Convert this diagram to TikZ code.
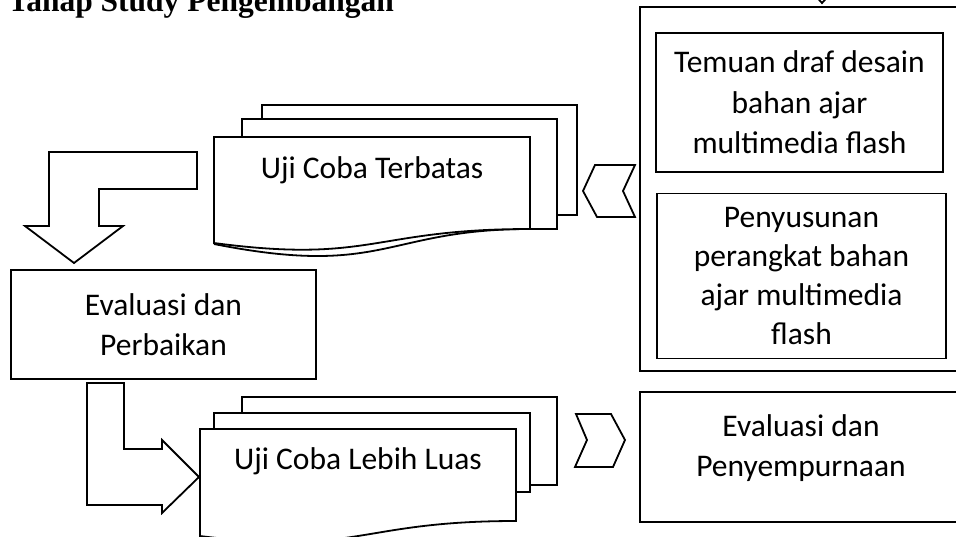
\documentclass[tikz,border=0pt]{standalone}
\usepackage{fontspec}
\setmainfont{Carlito}
\newfontfamily\titlefont{Liberation Serif}
\newcommand{\bodyfont}{\fontsize{31.5}{40.5}\selectfont}
\tikzset{
  shp/.style={draw=black, line width=1.8pt, fill=white, line join=miter},
  box/.style={shp, rectangle, inner sep=0pt, align=center, font=\bodyfont},
  lbl/.style={align=center, font=\bodyfont, inner sep=0pt},
}
\begin{document}
\begin{tikzpicture}[x=1pt, y=-1pt]
  \fill[white] (0,0) rectangle (956,536);
  \useasboundingbox (0,0) rectangle (956,536);

  % title (cut off at the top, as in the reference)
  \node[anchor=base west, inner sep=0pt, font=\titlefont\bfseries\fontsize{31.5}{38}\selectfont] (title) at (8,11) {Tahap Study Pengembangan};

  % small chevron tip at the top
  \draw[shp] (812,-8) -- (822,3) -- (832,-8);

  % right column
  \node[box, minimum width=322pt, minimum height=364pt] (outer) at (801,189) {};
  \node[box, minimum width=287pt, minimum height=139pt] (temuan) at (799.5,102.5) {Temuan draf desain\\bahan ajar\\multimedia flash};
  \node[box, minimum width=289pt, minimum height=165pt, font=\fontsize{31.5}{39}\selectfont] (susun) at (801.5,276) {Penyusunan\\perangkat bahan\\ajar multimedia\\flash};
  \node[box, minimum width=322pt, minimum height=130pt] (evsemp) at (801,457) {};
  \node[lbl] (evsemptxt) at (801,448) {Evaluasi dan\\Penyempurnaan};

  % left box
  \node[box, minimum width=305pt, minimum height=109pt] (evperb) at (163.5,324.5) {Evaluasi dan\\Perbaikan};

  % multidocument: Uji Coba Terbatas
  \draw[shp] (262,105) rectangle (577,215);
  \draw[shp] (242,119) rectangle (557,229);
  \draw[line width=1.8pt] (530,229) .. controls (385,229) and (385,278) .. (214,244);
  \draw[shp] (214,137) -- (530,137) -- (530,229) .. controls (372,229) and (372,264) .. (214,243) -- cycle;
  \node[lbl, anchor=base] (uct) at (372,178) {Uji Coba Terbatas};

  % multidocument: Uji Coba Lebih Luas
  \draw[shp] (242,397) rectangle (557,485);
  \draw[shp] (214,413) rectangle (530,492);
  \draw[shp] (200,429) -- (516,429) -- (516,521) .. controls (358,521) and (358,556) .. (200,536) -- cycle;
  \node[lbl, anchor=base] (ucl) at (358,469) {Uji Coba Lebih Luas};

  % chevrons
  \draw[shp] (595,165) -- (635,165) -- (623,191) -- (635,217) -- (597,217) -- (583,191) -- cycle;
  \draw[shp] (576,414) -- (611,414) -- (625,440) -- (613,467) -- (575,467) -- (587,440) -- cycle;

  % bent block arrows
  \draw[shp] (197,152) -- (49,152) -- (49,226) -- (25,226) -- (74,263) -- (123,226) -- (99,226) -- (99,189) -- (197,189) -- cycle;
  \draw[shp] (87,383) -- (124,383) -- (124,449) -- (162,449) -- (162,440) -- (199,477) -- (162,513) -- (162,505) -- (87,505) -- cycle;
\end{tikzpicture}
\end{document}
